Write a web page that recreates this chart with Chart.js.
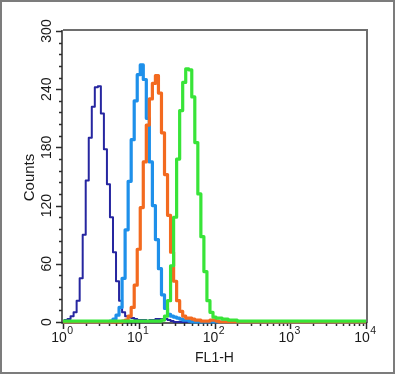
<!DOCTYPE html>
<html>
<head>
<meta charset="utf-8">
<script src="https://cdn.jsdelivr.net/npm/chart.js@4"></script>
<style>
  html, body { margin: 0; padding: 0; background: #ffffff; }
  #wrap { width: 397px; height: 376px; }
</style>
</head>
<body>
<div id="wrap"><canvas id="c" width="397" height="376"></canvas></div>
<script>
// FL1-H channel values (histogram bins, fluorescence intensity)
const channels = [
  1.000, 1.096, 1.202, 1.318, 1.445, 1.585, 1.738, 1.905, 2.089, 2.291,
  2.512, 2.754, 3.020, 3.311, 3.631, 3.981, 4.365, 4.786, 5.248, 5.754,
  6.310, 6.918, 7.586, 8.318, 9.120, 10.00, 10.96, 12.02, 13.18, 14.45,
  15.85, 17.38, 19.05, 20.89, 22.91, 25.12, 27.54, 30.20, 33.11, 36.31,
  39.81, 43.65, 47.86, 52.48, 57.54, 63.10, 69.18, 75.86, 83.18, 91.20,
  100.0, 109.6, 120.2, 131.8, 144.5, 158.5, 173.8, 190.5, 208.9, 229.1,
  251.2, 300, 400, 500, 700, 1000, 1500, 2000, 3000, 5000, 7000, 10000
];

// Counts per bin for each sample
const navyCounts = [
  1, 2, 3, 6, 10, 22, 45, 90, 146, 190, 222, 242, 243, 215, 178, 142, 108, 72, 42, 22,
  10, 6, 5, 4, 3, 2, 2, 2, 1, 2, 2, 3, 3, 3, 3, 2, 1, 0, 0, 0,
  0, 0, 0, 0, 0, 0, 0, 0, 0, 0, 0, 0, 0, 0, 0, 0, 0, 0, 0, 0,
  0, 0, 0, 0, 0, 0, 0, 0, 0, 0, 0, 0
];
const blueCounts = [
  0, 0, 0, 0, 0, 0, 0, 0, 0, 0, 0, 0, 0, 0, 0, 0, 1, 3, 7, 15,
  45, 95, 145, 188, 228, 255, 265, 250, 210, 165, 120, 85, 55, 28, 14, 8, 6, 5, 4, 3,
  2, 2, 1, 0, 0, 0, 0, 0, 0, 0, 0, 0, 0, 0, 0, 0, 0, 0, 0, 0,
  0, 0, 0, 0, 0, 0, 0, 0, 0, 0, 0, 0
];
const orangeCounts = [
  0, 0, 0, 0, 0, 0, 0, 0, 0, 0, 0, 0, 0, 0, 0, 0, 0, 0, 0, 0,
  1, 2, 6, 15, 38, 75, 118, 165, 203, 230, 246, 254, 236, 195, 152, 110, 72, 42, 22, 11,
  6, 4, 4, 3, 2, 2, 1, 1, 1, 2, 2, 1, 0, 0, 0, 0, 0, 0, 0, 0,
  0, 0, 0, 0, 0, 0, 0, 0, 0, 0, 0, 0
];
const greenCounts = [
  1, 1, 1, 1, 1, 1, 1, 1, 1, 1, 1, 1, 1, 1, 1, 1, 1, 1, 1, 1,
  1, 1, 1, 1, 1, 1, 1, 1, 1, 1, 1, 1, 1, 2, 6, 22, 58, 108, 168, 218,
  247, 261, 260, 232, 185, 132, 88, 52, 22, 10, 5, 4, 4, 3, 3, 2, 2, 2, 1, 1,
  1, 1, 1, 1, 1, 1, 1, 1, 1, 1, 1, 1
];

// Axis ticks
const xDecades = [0, 1, 2, 3, 4];
const yMajorTicks = [0, 60, 120, 180, 240, 300];
const yMinorStep = 12;
const xTitle = "FL1-H";
const yTitle = "Counts";

const FONT = '"Liberation Sans", Arial, Helvetica, sans-serif';

function series(vals) {
  return channels.map((c, i) => ({ x: c, y: vals[i] }));
}

const axesPlugin = {
  id: 'flowAxes',
  beforeDatasetsDraw(chart) {
    const ctx = chart.ctx;
    const xs = chart.scales.x, ys = chart.scales.y;
    const a = chart.chartArea;
    ctx.save();
    // outer image border
    ctx.strokeStyle = '#7c7c7c';
    ctx.lineWidth = 2;
    ctx.strokeRect(1, 1, 393, 372);

    // top and right frame
    ctx.strokeStyle = '#6e6e6e';
    ctx.lineWidth = 2;
    ctx.beginPath();
    ctx.moveTo(a.left, a.top - 1);
    ctx.lineTo(a.right + 1, a.top - 1);
    ctx.lineTo(a.right + 1, a.bottom + 1);
    ctx.stroke();

    // left and bottom axes
    ctx.strokeStyle = '#2a2a2a';
    ctx.lineWidth = 1.5;
    ctx.beginPath();
    ctx.moveTo(a.left - 1, a.top - 1);
    ctx.lineTo(a.left - 1, a.bottom + 1);
    ctx.lineTo(a.right + 1, a.bottom + 1);
    ctx.stroke();

    // y ticks
    ctx.lineWidth = 1.5;
    for (let v = 0; v <= 300; v += yMinorStep) {
      const y = Math.round(ys.getPixelForValue(v)) + 0.5;
      const major = yMajorTicks.includes(v);
      ctx.beginPath();
      ctx.moveTo(a.left - 1, y);
      ctx.lineTo(a.left - 1 - (major ? 6 : 3), y);
      ctx.stroke();
    }
    // x ticks
    for (const d of xDecades) {
      for (let m = 1; m <= 9; m++) {
        if (d === 4 && m > 1) break;
        const v = m * Math.pow(10, d);
        const x = Math.round(xs.getPixelForValue(v)) + 0.5;
        ctx.beginPath();
        ctx.moveTo(x, a.bottom + 1);
        ctx.lineTo(x, a.bottom + 1 + (m === 1 ? 6 : 3));
        ctx.stroke();
      }
    }

    // y labels (rotated)
    ctx.fillStyle = '#1a1a1a';
    ctx.font = '14px ' + FONT;
    ctx.textAlign = 'center';
    ctx.textBaseline = 'middle';
    for (const v of yMajorTicks) {
      const y = ys.getPixelForValue(v);
      ctx.save();
      ctx.translate(a.left - 16, y);
      ctx.rotate(-Math.PI / 2);
      ctx.fillText(String(v), 0, 0);
      ctx.restore();
    }

    // x labels 10^n
    ctx.textBaseline = 'alphabetic';
    ctx.textAlign = 'left';
    for (const d of xDecades) {
      const x = xs.getPixelForValue(Math.pow(10, d));
      ctx.font = '14px ' + FONT;
      const wBase = ctx.measureText('10').width;
      ctx.font = '10.5px ' + FONT;
      const wExp = ctx.measureText(String(d)).width;
      const start = x - (wBase + wExp) / 2 - 1;
      ctx.font = '14px ' + FONT;
      ctx.fillText('10', start, a.bottom + 20);
      ctx.font = '10.5px ' + FONT;
      ctx.fillText(String(d), start + wBase + 0.5, a.bottom + 12);
    }

    // axis titles
    ctx.font = '14px ' + FONT;
    ctx.textAlign = 'center';
    ctx.fillText(xTitle, (a.left + a.right) / 2, a.bottom + 40);
    ctx.save();
    ctx.translate(a.left - 33, (a.top + a.bottom) / 2 + 1);
    ctx.rotate(-Math.PI / 2);
    ctx.font = '15px ' + FONT;
    ctx.textBaseline = 'middle';
    ctx.fillText(yTitle, 0, 0);
    ctx.restore();
    ctx.restore();
  }
};

new Chart(document.getElementById('c'), {
  type: 'line',
  data: {
    datasets: [
      { label: 'navy', data: series(navyCounts), borderColor: '#2626a0', borderWidth: 2, order: 3 },
      { label: 'blue', data: series(blueCounts), borderColor: '#1e90ea', borderWidth: 3.2, order: 2 },
      { label: 'orange', data: series(orangeCounts), borderColor: '#f36a1f', borderWidth: 3.2, order: 1 },
      { label: 'green', data: series(greenCounts), borderColor: '#38e438', borderWidth: 3.2, order: 0 }
    ]
  },
  options: {
    responsive: false,
    animation: false,
    devicePixelRatio: 1,
    elements: {
      point: { radius: 0 },
      line: { stepped: 'middle', tension: 0, fill: false, borderJoinStyle: 'round' }
    },
    datasets: { line: { clip: false } },
    layout: { padding: { left: 63, right: 31, top: 31, bottom: 54 } },
    scales: {
      x: { type: 'logarithmic', min: 1, max: 10000, display: false },
      y: { type: 'linear', min: 0, max: 300, display: false }
    },
    plugins: { legend: { display: false }, tooltip: { enabled: false } }
  },
  plugins: [axesPlugin]
});
</script>
</body>
</html>
